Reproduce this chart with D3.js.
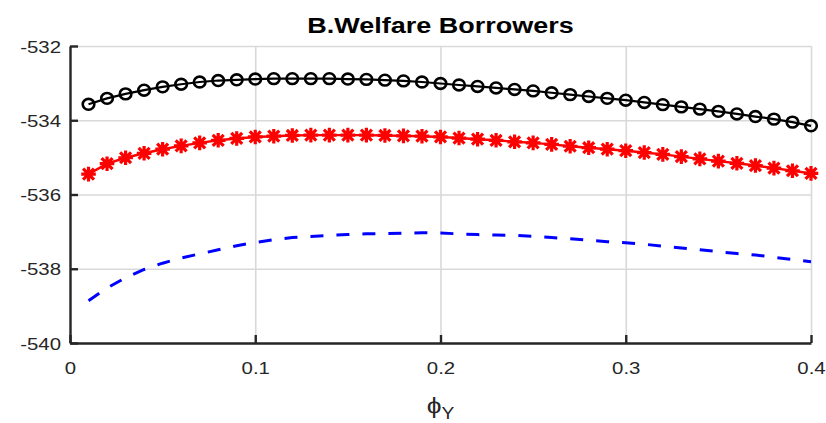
<!DOCTYPE html>
<html>
<head>
<meta charset="utf-8">
<script src="https://cdn.jsdelivr.net/npm/d3@7"></script>
<style>
  html, body { margin: 0; padding: 0; background: #fff; }
  svg { display: block; font-family: "Liberation Sans", Arial, Helvetica, sans-serif; }
</style>
</head>
<body>
<svg id="chart" width="826" height="423"></svg>
<script>
// ---------- data ----------
const phiY = [0.01,0.02,0.03,0.04,0.05,0.06,0.07,0.08,0.09,0.10,
              0.11,0.12,0.13,0.14,0.15,0.16,0.17,0.18,0.19,0.20,
              0.21,0.22,0.23,0.24,0.25,0.26,0.27,0.28,0.29,0.30,
              0.31,0.32,0.33,0.34,0.35,0.36,0.37,0.38,0.39,0.40];

const seriesCircle = [-533.57,-533.41,-533.29,-533.19,-533.10,-533.03,-532.97,-532.93,-532.91,-532.89,
                      -532.88,-532.88,-532.88,-532.88,-532.89,-532.90,-532.92,-532.94,-532.97,-533.01,
                      -533.05,-533.09,-533.13,-533.17,-533.21,-533.26,-533.31,-533.36,-533.41,-533.46,
                      -533.52,-533.58,-533.64,-533.70,-533.76,-533.83,-533.90,-533.97,-534.05,-534.15];

const seriesStar = [-535.45,-535.17,-535.01,-534.89,-534.78,-534.69,-534.61,-534.54,-534.49,-534.45,
                    -534.43,-534.41,-534.40,-534.40,-534.40,-534.40,-534.41,-534.42,-534.43,-534.45,
                    -534.48,-534.51,-534.54,-534.58,-534.61,-534.65,-534.70,-534.74,-534.78,-534.82,
                    -534.87,-534.92,-534.98,-535.04,-535.10,-535.16,-535.22,-535.29,-535.36,-535.43];

const seriesDashed = [-538.86,-538.52,-538.24,-538.02,-537.85,-537.71,-537.60,-537.49,-537.38,-537.29,
                      -537.22,-537.16,-537.13,-537.10,-537.08,-537.06,-537.05,-537.04,-537.03,-537.04,
                      -537.06,-537.08,-537.09,-537.10,-537.13,-537.16,-537.19,-537.23,-537.27,-537.30,
                      -537.34,-537.39,-537.44,-537.49,-537.54,-537.59,-537.63,-537.69,-537.75,-537.81];

const xTicks = [0, 0.1, 0.2, 0.3, 0.4];
const xTickLabels = ["0", "0.1", "0.2", "0.3", "0.4"];
const yTicks = [-540, -538, -536, -534, -532];
const yTickLabels = ["-540", "-538", "-536", "-534", "-532"];
const titleText = "B.Welfare Borrowers";

// ---------- layout ----------
const svg = d3.select("#chart");
const m = { left: 70, right: 15, top: 46, bottom: 80 };
const W = 826, H = 423;
const iw = W - m.left - m.right;
const ih = H - m.top - m.bottom;
const SX = 1.2;
const axisColor = "#262626";
const gridColor = "#d9d9d9";

const x = d3.scaleLinear().domain([0, 0.4]).range([0, iw]);
const y = d3.scaleLinear().domain([-540, -532]).range([ih, 0]);

const g = svg.append("g").attr("transform", `translate(${m.left},${m.top})`);

// grid
g.append("g")
  .attr("transform", `translate(0,${ih})`)
  .call(d3.axisBottom(x).tickValues(xTicks).tickSize(-ih).tickFormat(""))
  .call(s => s.select(".domain").remove())
  .call(s => s.selectAll("line").attr("stroke", gridColor).attr("stroke-width", 1.6));
g.append("g")
  .call(d3.axisLeft(y).tickValues(yTicks).tickSize(-iw).tickFormat(""))
  .call(s => s.select(".domain").remove())
  .call(s => s.selectAll("line").attr("stroke", gridColor).attr("stroke-width", 1.6));

// data lines
const line = (vals) => d3.line().x((d, i) => x(phiY[i])).y(d => y(d))(vals);

g.append("path")
  .attr("d", line(seriesDashed))
  .attr("fill", "none").attr("stroke", "#0000ff")
  .attr("stroke-width", 3).attr("stroke-dasharray", "13,13");

g.append("path")
  .attr("d", line(seriesStar))
  .attr("fill", "none").attr("stroke", "#ff0000").attr("stroke-width", 2.4);

const s = 7.3, d = s * 0.75;
const starPath = `M0,${-s}L0,${s}M${-s},0L${s},0M${-d},${-d}L${d},${d}M${-d},${d}L${d},${-d}`;
g.append("g").selectAll("path")
  .data(seriesStar).join("path")
  .attr("transform", (v, i) => `translate(${x(phiY[i])},${y(v)})`)
  .attr("d", starPath)
  .attr("fill", "none").attr("stroke", "#ff0000").attr("stroke-width", 3.2);

g.append("path")
  .attr("d", line(seriesCircle))
  .attr("fill", "none").attr("stroke", "#000").attr("stroke-width", 2.2);

g.append("g").selectAll("ellipse")
  .data(seriesCircle).join("ellipse")
  .attr("cx", (v, i) => x(phiY[i])).attr("cy", v => y(v))
  .attr("rx", 5.8).attr("ry", 5.4)
  .attr("fill", "none").attr("stroke", "#000").attr("stroke-width", 2.6);

// axes
const xAxis = g.append("g")
  .attr("transform", `translate(0,${ih})`)
  .call(d3.axisBottom(x).tickValues(xTicks).tickSizeInner(-8).tickSizeOuter(0)
        .tickPadding(19).tickFormat((t, i) => xTickLabels[i]));
const yAxis = g.append("g")
  .call(d3.axisLeft(y).tickValues(yTicks).tickSizeInner(-8).tickSizeOuter(0)
        .tickPadding(9 / SX).tickFormat((t, i) => yTickLabels[i]));

[xAxis, yAxis].forEach(a => {
  a.select(".domain").attr("stroke", axisColor).attr("stroke-width", 2.4);
  a.selectAll(".tick line").attr("stroke", axisColor).attr("stroke-width", 2.4);
  a.selectAll(".tick text")
    .attr("fill", axisColor)
    .style("font-size", "17px")
    .style("font-family", "'Liberation Sans', Arial, sans-serif")
    .attr("transform", `scale(${SX},1)`);
});
yAxis.selectAll(".tick text").attr("dy", "0.36em");

// title
svg.append("text")
  .attr("transform", `translate(${m.left + iw / 2},33) scale(${SX},1)`)
  .attr("text-anchor", "middle")
  .style("font-size", "22.5px").style("font-weight", "bold")
  .attr("fill", "#000")
  .text(titleText);

// x label  phi_Y
const xl = svg.append("text")
  .attr("transform", `translate(${m.left + iw / 2},413) scale(${SX},1)`)
  .attr("text-anchor", "middle")
  .attr("fill", axisColor)
  .style("font-size", "22px");
xl.append("tspan").text("\u03D5");
xl.append("tspan").attr("dy", 6).style("font-size", "16px").text("Y");
</script>
</body>
</html>
